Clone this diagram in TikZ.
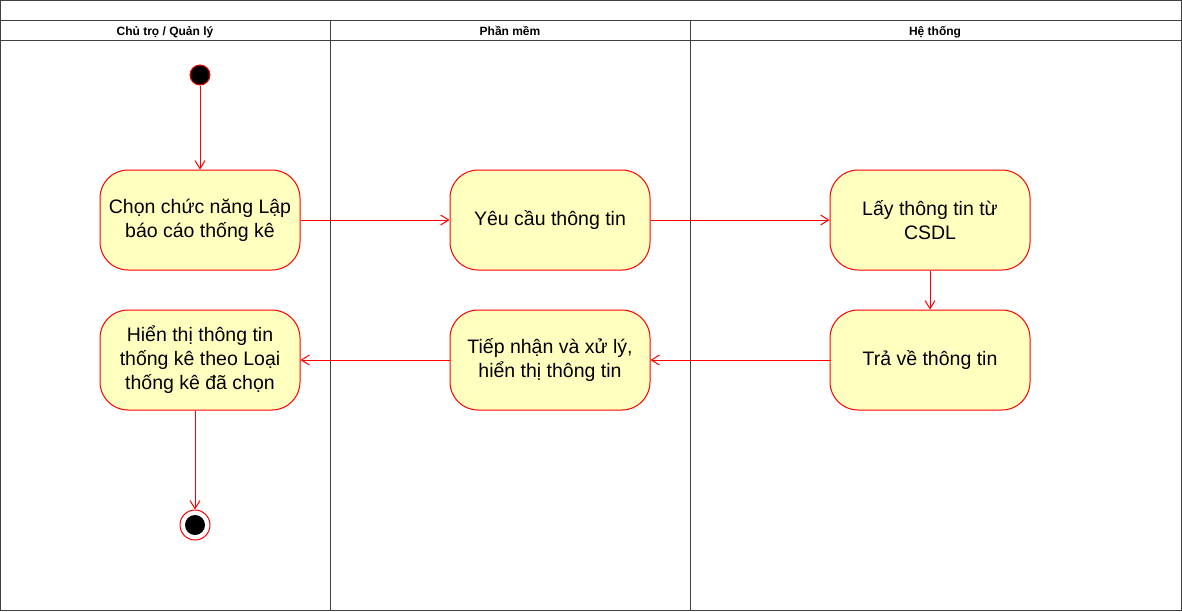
\documentclass[tikz,border=0pt]{standalone}
\usepackage{fontspec}
\setmainfont{Liberation Sans}
\usetikzlibrary{arrows.meta}
\definecolor{actfill}{HTML}{FFFFC0}
\definecolor{actline}{HTML}{FF0000}
\tikzset{act/.style={draw=actline,fill=actfill,rounded corners=28pt,
   minimum width=200pt,minimum height=100pt,align=center,
   font=\fontsize{19.5}{24}\selectfont},
 startdot/.style={circle,draw=actline,fill=black,minimum size=20pt,inner sep=0pt},
 enddot/.style={circle,draw=actline,fill=white,minimum size=30pt,inner sep=0pt},
 flow/.style={draw=actline,-{Straight Barb[length=8pt,width=10pt]}},
 lanehead/.style={font=\fontsize{12}{14}\selectfont\bfseries,text height=9pt,text depth=3pt},
 }

\begin{document}
\begin{tikzpicture}[x=1pt,y=-1pt,line width=1pt]
    \useasboundingbox (0,0) rectangle (1182,611);
    % lanes
    \draw[black!75] (0.5,0.5) rectangle (1181,610.5);
    \draw[black!75] (0.5,20.5) -- (1181,20.5);
    \draw[black!75] (0.5,40.5) -- (1181,40.5);
    \draw[black!75] (330.5,20.5) -- (330.5,610.5);
    \draw[black!75] (690.5,20.5) -- (690.5,610.5);
    \node[lanehead] (laneA) at (165,32.5) {Chủ trọ / Quản lý};
    \node[lanehead] (laneB) at (510,32.5) {Phần mềm};
    \node[lanehead] (laneC) at (935,32.5) {Hệ thống};
    % activities
    \node[startdot] (start) at (200,75) {};
    \node[act] (chon) at (200,220) {Chọn chức năng Lập\\báo cáo thống kê};
    \node[act] (yeucau) at (550,220) {Yêu cầu thông tin};
    \node[act] (lay) at (930,220) {Lấy thông tin từ\\CSDL};
    \node[act] (trave) at (930,360) {Trả về thông tin};
    \node[act] (tiepnhan) at (550,360) {Tiếp nhận và xử lý,\\hiển thị thông tin};
    \node[act] (hienthi) at (200,360) {Hiển thị thông tin\\thống kê theo Loại\\thống kê đã chọn};
    \node[enddot] (stop) at (195,525) {};
    \fill (stop) circle (10pt);
    % flows
    \draw[flow] (start) -- (chon);
    \draw[flow] (chon) -- (yeucau);
    \draw[flow] (yeucau) -- (lay);
    \draw[flow] (lay) -- (trave);
    \draw[flow] (trave) -- (tiepnhan);
    \draw[flow] (tiepnhan) -- (hienthi);
    \draw[flow] (stop |- hienthi.south) -- (stop);
\end{tikzpicture}
\end{document}
